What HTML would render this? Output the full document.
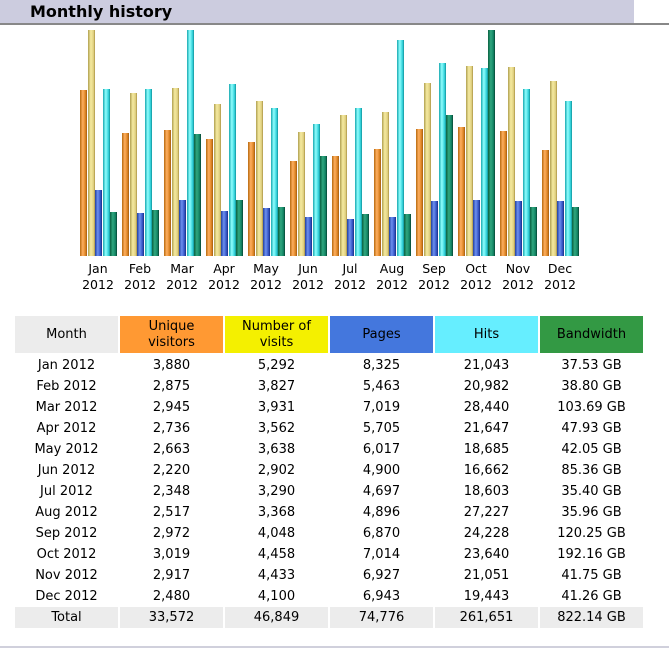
<!DOCTYPE html>
<html><head><meta charset="utf-8"><style>
body{margin:0;width:669px;height:655px;background:#fff;position:relative;font-family:"DejaVu Sans","Liberation Sans",sans-serif;overflow:hidden}
.hdr{position:absolute;left:0;top:0;width:634px;height:23px;background:#ccccdf}
.hl{position:absolute;left:0;top:23px;width:669px;height:2px;background:#888}
.ht{position:absolute;left:30px;top:2px;font-weight:bold;font-size:16px;color:#000}
.b{position:absolute;width:7px;bottom:399px}
.o{background:linear-gradient(to right,#b86a10,#ffb060 40%,#d98020 80%,#a05a10)}
.y{background:linear-gradient(to right,#b0a050,#f5eaa0 40%,#e0d080 80%,#a89040)}
.p{background:linear-gradient(to right,#2040a0,#6d90f0 40%,#3050c0 80%,#1a2e80)}
.c{background:linear-gradient(to right,#18a8b0,#90ffff 40%,#30d0d8 80%,#109098)}
.g{background:linear-gradient(to right,#0a6040,#30a880 40%,#108060 80%,#064030)}
.lb{position:absolute;top:261px;width:42px;text-align:center;font-size:12.5px;line-height:16px;color:#000}
table{position:absolute;left:13px;top:316px;border-collapse:separate;border-spacing:2px 0;font-size:13px}
td{width:103px;height:21px;padding:0;text-align:center;color:#000}
th{font-weight:normal;height:37px;padding:0;font-size:13px;line-height:16px;border-bottom:2px solid #fff}
tr.t td{background:#ececec}
.bl{position:absolute;left:0;top:646px;width:669px;height:2px;background:#d0d0dc}
</style></head><body>
<div class="hdr"><div class="ht">Monthly history</div></div><div class="hl"></div>
<div id="ch"></div>
<div class="lb" style="left:77px">Jan<br>2012</div>
<div class="lb" style="left:119px">Feb<br>2012</div>
<div class="lb" style="left:161px">Mar<br>2012</div>
<div class="lb" style="left:203px">Apr<br>2012</div>
<div class="lb" style="left:245px">May<br>2012</div>
<div class="lb" style="left:287px">Jun<br>2012</div>
<div class="lb" style="left:329px">Jul<br>2012</div>
<div class="lb" style="left:371px">Aug<br>2012</div>
<div class="lb" style="left:413px">Sep<br>2012</div>
<div class="lb" style="left:455px">Oct<br>2012</div>
<div class="lb" style="left:497px">Nov<br>2012</div>
<div class="lb" style="left:539px">Dec<br>2012</div>
<script>
var d=[[3880,5292,8325,21043,37.53],[2875,3827,5463,20982,38.80],[2945,3931,7019,28440,103.69],[2736,3562,5705,21647,47.93],[2663,3638,6017,18685,42.05],[2220,2902,4900,16662,85.36],[2348,3290,4697,18603,35.40],[2517,3368,4896,27227,35.96],[2972,4048,6870,24228,120.25],[3019,4458,7014,23640,192.16],[2917,4433,6927,21051,41.75],[2480,4100,6943,19443,41.26]];
var mx=[5292,5292,28440,28440,192.16],cl=['o','y','p','c','g'],h='';
d.forEach(function(r,i){r.forEach(function(v,j){var ht=Math.round(v/mx[j]*226);h+='<div class="b '+cl[j]+'" style="left:'+(80+i*42+j*7.5)+'px;height:'+ht+'px"></div>';});});
document.getElementById('ch').innerHTML=h;
</script>
<table>
<tr><th style="background:#ececec">Month</th><th style="background:#ff9933">Unique<br>visitors</th><th style="background:#f4f000">Number of<br>visits</th><th style="background:#4477dd">Pages</th><th style="background:#66eeff">Hits</th><th style="background:#339944">Bandwidth</th></tr>
<tr><td>Jan 2012</td><td>3,880</td><td>5,292</td><td>8,325</td><td>21,043</td><td>37.53 GB</td></tr>
<tr><td>Feb 2012</td><td>2,875</td><td>3,827</td><td>5,463</td><td>20,982</td><td>38.80 GB</td></tr>
<tr><td>Mar 2012</td><td>2,945</td><td>3,931</td><td>7,019</td><td>28,440</td><td>103.69 GB</td></tr>
<tr><td>Apr 2012</td><td>2,736</td><td>3,562</td><td>5,705</td><td>21,647</td><td>47.93 GB</td></tr>
<tr><td>May 2012</td><td>2,663</td><td>3,638</td><td>6,017</td><td>18,685</td><td>42.05 GB</td></tr>
<tr><td>Jun 2012</td><td>2,220</td><td>2,902</td><td>4,900</td><td>16,662</td><td>85.36 GB</td></tr>
<tr><td>Jul 2012</td><td>2,348</td><td>3,290</td><td>4,697</td><td>18,603</td><td>35.40 GB</td></tr>
<tr><td>Aug 2012</td><td>2,517</td><td>3,368</td><td>4,896</td><td>27,227</td><td>35.96 GB</td></tr>
<tr><td>Sep 2012</td><td>2,972</td><td>4,048</td><td>6,870</td><td>24,228</td><td>120.25 GB</td></tr>
<tr><td>Oct 2012</td><td>3,019</td><td>4,458</td><td>7,014</td><td>23,640</td><td>192.16 GB</td></tr>
<tr><td>Nov 2012</td><td>2,917</td><td>4,433</td><td>6,927</td><td>21,051</td><td>41.75 GB</td></tr>
<tr><td>Dec 2012</td><td>2,480</td><td>4,100</td><td>6,943</td><td>19,443</td><td>41.26 GB</td></tr>
<tr class="t"><td>Total</td><td>33,572</td><td>46,849</td><td>74,776</td><td>261,651</td><td>822.14 GB</td></tr>
</table>
<div class="bl"></div>
</body></html>
